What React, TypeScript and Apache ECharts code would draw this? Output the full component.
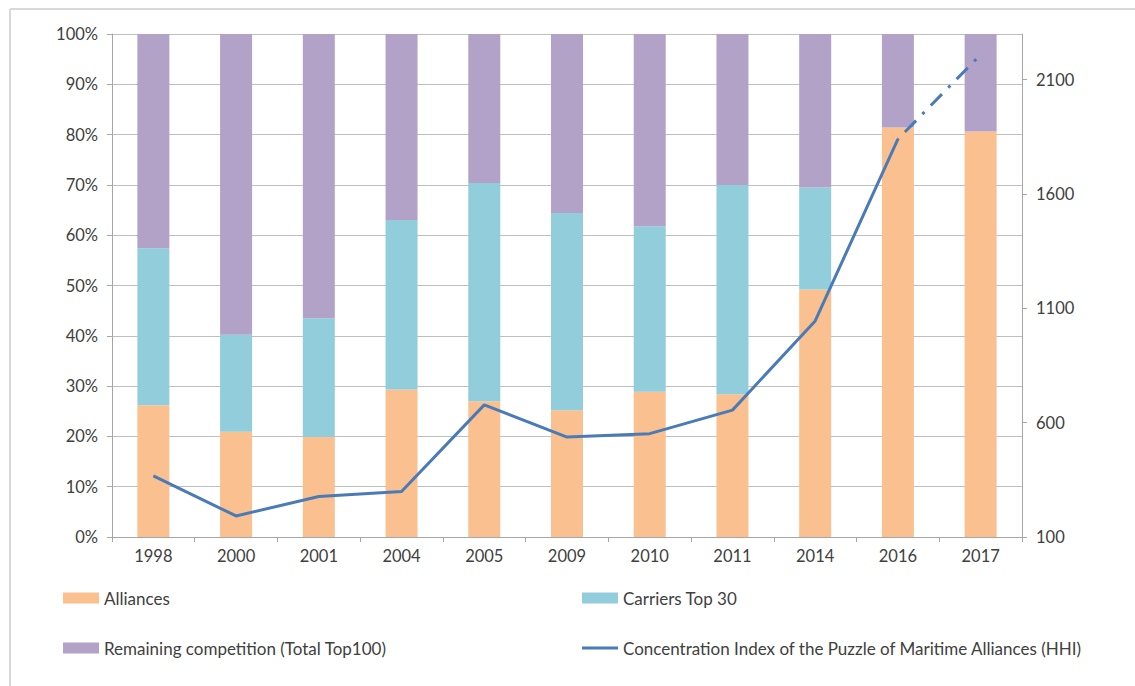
import React, { useEffect, useRef } from "react";
import * as echarts from "echarts";

const years = ["1998", "2000", "2001", "2004", "2005", "2009", "2010", "2011", "2014", "2016", "2017"];
const alliances = [26.2, 20.9, 19.9, 29.3, 27.0, 25.2, 28.9, 28.4, 49.2, 81.4, 80.6];
const carriersTop30 = [31.2, 19.3, 23.6, 33.7, 43.4, 39.2, 32.9, 41.6, 20.3, 0, 0];
const remaining = [42.6, 59.8, 56.5, 37.0, 29.6, 35.6, 38.2, 30.0, 30.5, 18.6, 19.4];
const hhi = [367, 192, 277, 299, 678, 537, 552, 655, 1045, 1840, null];
const hhiProjected = [null, null, null, null, null, null, null, null, null, 1840, 2210];
const leftTicks = { min: 0, max: 100, interval: 10 };
const rightTicks = { min: 100, max: 2300, interval: 500 };

const FONT = "Lato";
const TEXT = "#404040";
const GRID = "#BFBFBF";
const AXIS = "#A6A6A6";
const ORANGE = "#FAC090";
const BLUE = "#92CDDC";
const PURPLE = "#B3A2C7";
const LINE = "#4A7BB7";

export default function App() {
  const ref = useRef<HTMLDivElement>(null);
  useEffect(() => {
    document.body.style.margin = "0";
    const chart = echarts.init(ref.current!, null, { renderer: "svg" });
    const legendText = { color: TEXT, fontFamily: FONT, fontSize: 17, lineHeight: 20 };
    const mkLegend = (name: string, left: number, top: number, color: string, isLine?: boolean) => ({
      data: [name],
      left,
      top,
      orient: "horizontal",
      itemWidth: 36,
      itemHeight: isLine ? 3 : 11,
      icon: "rect",
      itemStyle: { color },
      textStyle: legendText,
      padding: 0,
      selectedMode: false,
    });
    chart.setOption({
      animation: false,
      backgroundColor: "#ffffff",
      textStyle: { fontFamily: FONT },
      grid: { left: 112, right: 113, top: 34, bottom: 149, containLabel: false },
      legend: [
        mkLegend("Alliances", 63, 588, ORANGE),
        mkLegend("Remaining competition (Total Top100)", 63, 638, PURPLE),
        mkLegend("Carriers Top 30", 582, 588, BLUE),
        mkLegend("Concentration Index of the Puzzle of Maritime Alliances (HHI)", 582, 638, LINE, true),
      ],
      xAxis: {
        type: "category",
        data: years,
        axisLine: { show: true, lineStyle: { color: AXIS, width: 1 } },
        axisTick: { show: true, alignWithLabel: false, length: 5, lineStyle: { color: AXIS } },
        axisLabel: { color: TEXT, fontFamily: FONT, fontSize: 16.5, margin: 10 },
        splitLine: { show: false },
      },
      yAxis: [
        {
          type: "value",
          min: leftTicks.min,
          max: leftTicks.max,
          interval: leftTicks.interval,
          axisLine: { show: true, lineStyle: { color: AXIS, width: 1 } },
          axisTick: { show: true, length: 5, lineStyle: { color: AXIS } },
          axisLabel: { color: TEXT, fontFamily: FONT, fontSize: 16.5, margin: 14, formatter: "{value}%" },
          splitLine: { show: true, lineStyle: { color: GRID, width: 1 } },
        },
        {
          type: "value",
          position: "right",
          min: rightTicks.min,
          max: rightTicks.max,
          interval: rightTicks.interval,
          axisLine: { show: true, lineStyle: { color: AXIS, width: 1 } },
          axisTick: { show: true, length: 5, lineStyle: { color: AXIS } },
          axisLabel: {
            color: TEXT,
            fontFamily: FONT,
            fontSize: 16.5,
            margin: 14,
            showMaxLabel: false,
            formatter: (v: number) => String(v),
          },
          splitLine: { show: false },
        },
      ],
      series: [
        {
          name: "Alliances",
          type: "bar",
          stack: "total",
          barWidth: 32,
          data: alliances,
          itemStyle: { color: ORANGE },
        },
        {
          name: "Carriers Top 30",
          type: "bar",
          stack: "total",
          barWidth: 32,
          data: carriersTop30,
          itemStyle: { color: BLUE },
        },
        {
          name: "Remaining competition (Total Top100)",
          type: "bar",
          stack: "total",
          barWidth: 32,
          data: remaining,
          itemStyle: { color: PURPLE },
        },
        {
          name: "Concentration Index of the Puzzle of Maritime Alliances (HHI)",
          type: "line",
          yAxisIndex: 1,
          data: hhi,
          symbol: "none",
          smooth: false,
          lineStyle: { color: LINE, width: 3 },
          itemStyle: { color: LINE },
          z: 5,
        },
        {
          name: "HHI projected",
          type: "line",
          yAxisIndex: 1,
          data: hhiProjected,
          symbol: "none",
          lineStyle: { color: LINE, width: 3, type: [16, 9, 3, 9], dashOffset: -10 },
          itemStyle: { color: LINE },
          z: 5,
        },
      ],
      graphic: [
        { type: "line", shape: { x1: 10, y1: 9, x2: 1135, y2: 9 }, style: { stroke: "#D9D9D9", lineWidth: 2 } },
        { type: "line", shape: { x1: 10, y1: 9, x2: 10, y2: 686 }, style: { stroke: "#D9D9D9", lineWidth: 2 } },
      ],
    });
    return () => chart.dispose();
  }, []);
  return <div ref={ref} style={{ width: 1135, height: 686 }} />;
}
